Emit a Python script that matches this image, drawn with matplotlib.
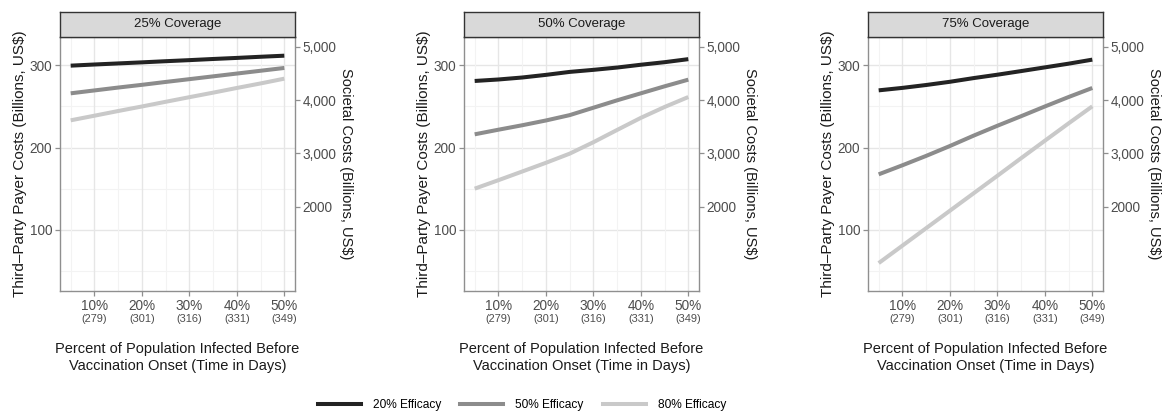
import matplotlib
matplotlib.use("Agg")
import matplotlib.pyplot as plt
from matplotlib.lines import Line2D

plt.rcParams['font.family'] = ['Liberation Sans', 'DejaVu Sans']

# Percent of population infected before vaccination onset
infected_pct = [5, 10, 15, 20, 25, 30, 35, 40, 45, 50]
tick_pct = [10, 20, 30, 40, 50]
tick_days = ["(279)", "(301)", "(316)", "(331)", "(349)"]

coverages = ["25% Coverage", "50% Coverage", "75% Coverage"]
efficacies = ["20% Efficacy", "50% Efficacy", "80% Efficacy"]

# Third-party payer costs (billions US$) per coverage level
cov25_eff20 = [299.6, 301.0, 302.3, 303.6, 305.0, 306.3, 307.7, 309.0, 310.4, 311.7]
cov25_eff50 = [266.0, 269.5, 273.0, 276.3, 279.8, 283.2, 286.6, 290.0, 293.4, 296.8]
cov25_eff80 = [233.2, 238.8, 244.5, 250.0, 255.7, 261.3, 266.8, 272.5, 278.0, 283.8]

cov50_eff20 = [281.0, 282.8, 285.2, 288.4, 292.0, 294.5, 297.3, 300.7, 303.8, 307.5]
cov50_eff50 = [216.2, 221.8, 227.2, 233.0, 239.5, 248.5, 257.5, 266.0, 274.5, 282.6]
cov50_eff80 = [150.2, 160.5, 171.0, 181.6, 192.7, 206.6, 221.5, 236.2, 249.4, 261.5]

cov75_eff20 = [269.6, 272.6, 276.1, 280.0, 284.5, 288.6, 293.0, 297.5, 302.0, 306.9]
cov75_eff50 = [167.6, 178.6, 190.0, 202.0, 214.6, 226.6, 238.2, 250.0, 261.5, 272.5]
cov75_eff80 = [59.8, 81.0, 102.2, 123.4, 144.6, 165.8, 187.2, 208.4, 229.5, 250.2]

panel_data = [
    [cov25_eff20, cov25_eff50, cov25_eff80],
    [cov50_eff20, cov50_eff50, cov50_eff80],
    [cov75_eff20, cov75_eff50, cov75_eff80],
]

line_colors = ["#232323", "#8c8c8c", "#c9c9c9"]

# Secondary (societal cost) axis
soc_ticks = [2000, 3000, 4000, 5000]
soc_labels = ["2000", "3,000", "4,000", "5,000"]

W, H = 1163, 411
fig = plt.figure(figsize=(W / 100, H / 100), dpi=100)

panel_left = [60, 464, 868]
panel_w = 235
p_top, p_bot = 37, 291
strip_top = 12

y_lim = (25.9, 334.4)
soc_lim = (419, 5182)
x_lim = (2.75, 52.25)

tick_col = "#4d4d4d"
frame_col = "#8f8f8f"

for i in range(3):
    x0 = panel_left[i]
    ax = fig.add_axes([x0 / W, 1 - p_bot / H, panel_w / W, (p_bot - p_top) / H])
    ax.set_xlim(*x_lim)
    ax.set_ylim(*y_lim)
    ax.set_facecolor("white")

    # grid
    for v in [50, 150, 250]:
        ax.axhline(v, color="#f3f3f3", lw=0.8, zorder=0)
    for v in [100, 200, 300]:
        ax.axhline(v, color="#e6e6e6", lw=1.0, zorder=0)
    for v in [5, 15, 25, 35, 45]:
        ax.axvline(v, color="#f3f3f3", lw=0.8, zorder=0)
    for v in tick_pct:
        ax.axvline(v, color="#e6e6e6", lw=1.0, zorder=0)

    for series, col in zip(panel_data[i], line_colors):
        ax.plot(infected_pct, series, color=col, lw=2.9, solid_capstyle="butt", zorder=3)

    for s in ax.spines.values():
        s.set_color(frame_col)
        s.set_linewidth(1.0)

    ax.set_yticks([100, 200, 300])
    ax.set_yticklabels(["100", "200", "300"])
    ax.set_xticks(tick_pct)
    ax.set_xticklabels([f"{p}%" for p in tick_pct])
    ax.tick_params(axis="both", colors=frame_col, labelcolor=tick_col, labelsize=9.8,
                   length=3.5, width=0.9, pad=2)
    for xp, d in zip(tick_pct, tick_days):
        ax.annotate(d, xy=(xp, 0), xycoords=("data", "axes fraction"),
                    xytext=(0, -16.5), textcoords="offset points",
                    ha="center", va="top", fontsize=7.9, color=tick_col)

    ax.set_ylabel("Third\u2013Party Payer Costs (Billions, US$)", fontsize=11,
                  color="#1a1a1a", labelpad=2)
    ax.set_xlabel("Percent of Population Infected Before\nVaccination Onset (Time in Days)",
                  fontsize=10.5, color="#1a1a1a", labelpad=21, linespacing=1.25)

    ax2 = ax.twinx()
    ax2.set_ylim(*soc_lim)
    ax2.set_yticks(soc_ticks)
    ax2.set_yticklabels(soc_labels)
    ax2.tick_params(axis="y", colors=frame_col, labelcolor=tick_col, labelsize=9.8,
                    length=3.5, width=0.9, pad=2)
    for s in ax2.spines.values():
        s.set_visible(False)
    ax2.set_ylabel("Societal Costs (Billions, US$)", fontsize=10.5, color="#1a1a1a",
                   rotation=270, va="bottom", labelpad=2)

    # facet strip
    strip = fig.add_axes([x0 / W, 1 - p_top / H, panel_w / W, (p_top - strip_top) / H])
    strip.set_xticks([])
    strip.set_yticks([])
    strip.set_facecolor("#d9d9d9")
    for s in strip.spines.values():
        s.set_color("#333333")
        s.set_linewidth(1.0)
    strip.text(0.5, 0.5, coverages[i], ha="center", va="center", fontsize=9.5,
               color="#1a1a1a", transform=strip.transAxes)

handles = [Line2D([0], [0], color=c, lw=2.9) for c in line_colors]
fig.legend(handles, efficacies, loc="center", bbox_to_anchor=(522 / W, 1 - 405 / H),
           ncol=3, frameon=False, fontsize=8.6, handlelength=3.6, handletextpad=1.0,
           columnspacing=1.6)

fig.savefig("out.png", dpi=100, facecolor="white")
